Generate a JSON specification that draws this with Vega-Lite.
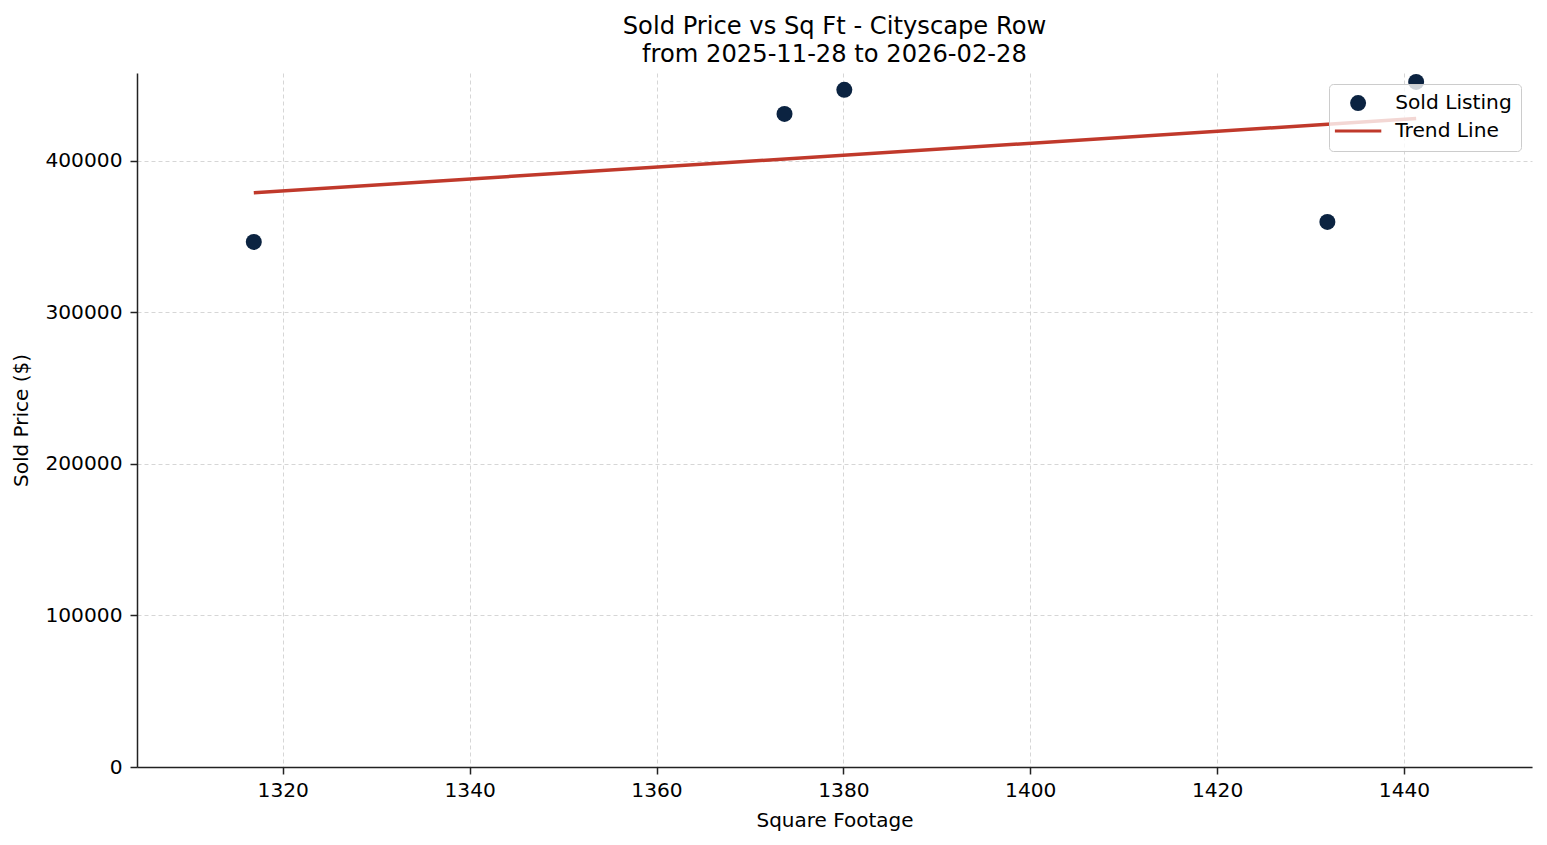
{
  "$schema": "https://vega.github.io/schema/vega-lite/v6.json",
  "width": 1395,
  "height": 694,
  "autosize": {"type": "none"},
  "padding": {"left": 137, "top": 73, "right": 15, "bottom": 78},
  "background": "white",
  "title": {
    "text": ["Sold Price vs Sq Ft - Cityscape Row", "from 2025-11-28 to 2026-02-28"],
    "font": "DejaVu Sans",
    "fontSize": 24.2,
    "fontWeight": "normal",
    "color": "black",
    "lineHeight": 28,
    "anchor": "middle",
    "offset": 6
  },
  "datasets": {
    "sold": [
      {"sqft": 1316.9, "price": 346500, "series": "Sold Listing"},
      {"sqft": 1373.7, "price": 431000, "series": "Sold Listing"},
      {"sqft": 1380.1, "price": 446900, "series": "Sold Listing"},
      {"sqft": 1431.8, "price": 359700, "series": "Sold Listing"},
      {"sqft": 1441.3, "price": 452100, "series": "Sold Listing"}
    ],
    "trend": [
      {"sqft": 1316.9, "price": 378900, "series": "Trend Line"},
      {"sqft": 1441.3, "price": 427900, "series": "Trend Line"}
    ]
  },
  "encoding": {
    "x": {
      "field": "sqft",
      "type": "quantitative",
      "title": "Square Footage",
      "scale": {"domain": [1304.4, 1453.7], "nice": false, "zero": false},
      "axis": {"values": [1320, 1340, 1360, 1380, 1400, 1420, 1440], "format": "d"}
    },
    "y": {
      "field": "price",
      "type": "quantitative",
      "title": "Sold Price ($)",
      "scale": {"domain": [0, 458000], "nice": false},
      "axis": {"values": [0, 100000, 200000, 300000, 400000], "format": "d", "labelPadding": 8}
    },
    "color": {
      "field": "series",
      "type": "nominal",
      "scale": {"domain": ["Sold Listing", "Trend Line"], "range": ["#0b2341", "#c0392b"]},
      "legend": {
        "title": null,
        "orient": "top-right",
        "offset": 11
      }
    }
  },
  "layer": [
    {
      "data": {"name": "trend"},
      "mark": {"type": "line", "strokeWidth": 3.5}
    },
    {
      "data": {"name": "sold"},
      "mark": {"type": "point", "filled": true, "size": 256, "opacity": 1},
      "encoding": {
        "shape": {
          "field": "series",
          "type": "nominal",
          "scale": {"domain": ["Sold Listing", "Trend Line"], "range": ["circle", "M-2.9,-0.19H2.9V0.19H-2.9Z"]},
          "legend": {"title": null, "orient": "top-right", "offset": 11}
        }
      }
    }
  ],
  "config": {
    "font": "DejaVu Sans",
    "view": {"stroke": null},
    "axis": {
      "labelFont": "DejaVu Sans",
      "labelFontSize": 20.2,
      "labelColor": "black",
      "titleFont": "DejaVu Sans",
      "titleFontSize": 20,
      "titleFontWeight": "normal",
      "titleColor": "black",
      "domainColor": "#222222",
      "domainWidth": 1.5,
      "tickColor": "#222222",
      "tickWidth": 1.5,
      "tickSize": 7,
      "labelPadding": 6,
      "grid": true,
      "gridColor": "#cccccc",
      "gridWidth": 0.8,
      "gridDash": [4, 3]
    },
    "axisX": {"titlePadding": 10},
    "axisY": {"titlePadding": 13},
    "legend": {
      "labelFont": "DejaVu Sans",
      "labelFontSize": 20.2,
      "labelColor": "black",
      "symbolSize": 256,
      "symbolStrokeWidth": 0,
      "padding": 9,
      "rowPadding": 7,
      "symbolOffset": 10,
      "labelOffset": 27,
      "fillColor": "rgba(255,255,255,0.8)",
      "strokeColor": "#cccccc",
      "cornerRadius": 4
    }
  }
}
